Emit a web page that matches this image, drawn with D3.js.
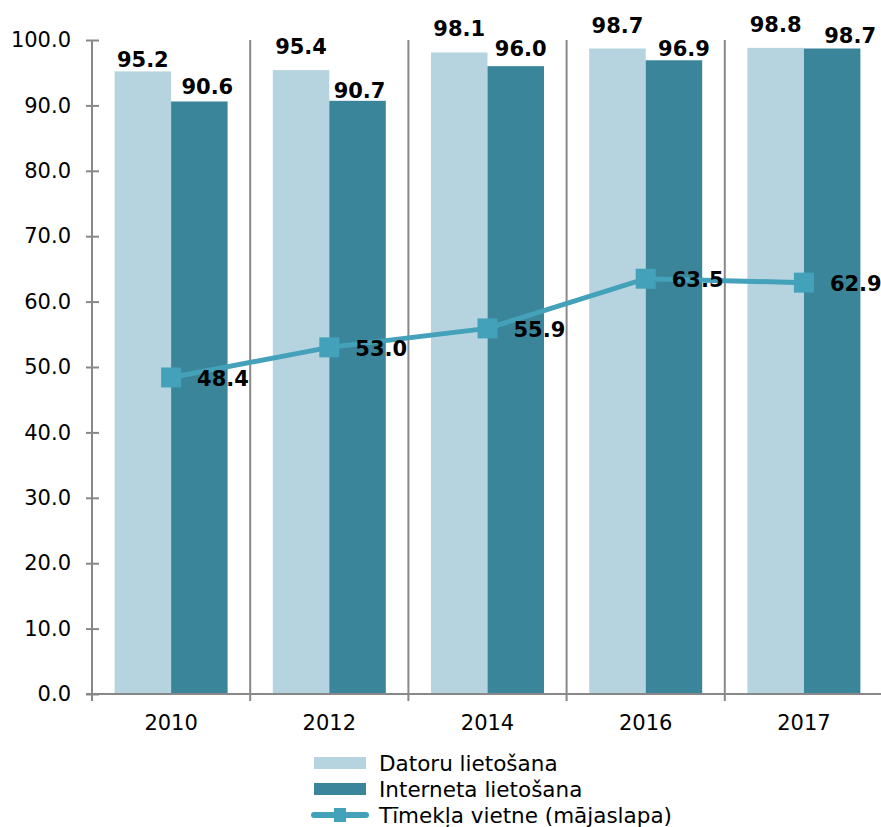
<!DOCTYPE html>
<meta charset="utf-8">
<style>
    html, body { margin: 0; padding: 0; background: #fff; }
    svg { font-family: 'DejaVu Sans', Verdana, sans-serif; }
    .yTick { font-size: 21px; fill: #000; }
    .xTick { font-size: 21px; fill: #000; }
    .barLabel, .lineLabel { font-size: 21px; font-weight: bold; fill: #000; }
    .legend text { font-size: 21.5px; fill: #000; }
</style>
<body>
<div id="chartArea"></div>
<script src="https://cdnjs.cloudflare.com/ajax/libs/d3/7.8.5/d3.min.js"></script>
<script>
    var years = ["2010", "2012", "2014", "2016", "2017"];
    var datoru = [95.2, 95.4, 98.1, 98.7, 98.8];
    var interneta = [90.6, 90.7, 96.0, 96.9, 98.7];
    var timekla = [48.4, 53.0, 55.9, 63.5, 62.9];
    var seriesNames = ["Datoru lietošana", "Interneta lietošana", "Tīmekļa vietne (mājaslapa)"];
    var yTicks = [0, 10, 20, 30, 40, 50, 60, 70, 80, 90, 100];

    // hand-nudged label positions as in the original chart [dx, gap above bar]
    var datoruNudge = [[0, 4], [0, 16], [0, 16], [0, 16], [0, 16]];
    var internetaNudge = [[8, 7], [2, 3], [5, 10], [10, 4], [18, 6]];

    var lightColor = "#b6d4df", darkColor = "#3a8599", lineColor = "#44a1ba", gridColor = "#888";

    var width = 881, height = 827;
    var plotLeft = 92, plotRight = 883, plotTop = 40, plotBottom = 694;

    var svg = d3.select("#chartArea").append("svg")
        .attr("width", width).attr("height", height);

    var x = d3.scaleBand().domain(years).range([plotLeft, plotRight]);
    var xInner = d3.scaleBand().domain([0, 1]).range([0, x.bandwidth()])
        .paddingInner(0).paddingOuter(0.4);
    var y = d3.scaleLinear().domain([0, 100]).range([plotBottom, plotTop]);

    // category separators
    svg.selectAll(".sep").data(years.slice(1)).enter().append("line")
        .attr("x1", function (d) { return x(d); }).attr("x2", function (d) { return x(d); })
        .attr("y1", plotTop).attr("y2", plotBottom + 7)
        .style("stroke", gridColor).style("stroke-width", "2px");

    // bars
    var bars = [datoru, interneta];
    var nudges = [datoruNudge, internetaNudge];
    var colors = [lightColor, darkColor];
    bars.forEach(function (vals, s) {
        svg.selectAll(".bar" + s).data(vals).enter().append("rect")
            .attr("x", function (d, i) { return x(years[i]) + xInner(s); })
            .attr("width", xInner.bandwidth())
            .attr("y", function (d) { return y(d); })
            .attr("height", function (d) { return y(0) - y(d); })
            .style("fill", colors[s]);
        svg.selectAll(".barLabel" + s).data(vals).enter().append("text")
            .attr("class", "barLabel")
            .attr("x", function (d, i) { return x(years[i]) + xInner(s) + xInner.bandwidth() / 2 + nudges[s][i][0]; })
            .attr("y", function (d, i) { return y(d) - nudges[s][i][1]; })
            .attr("text-anchor", "middle")
            .text(function (d) { return d.toFixed(1); });
    });

    // y axis
    var yAxis = svg.append("g").attr("transform", "translate(" + plotLeft + ",0)")
        .call(d3.axisLeft(y).tickValues(yTicks).tickSize(6).tickFormat(d3.format(".1f")));
    yAxis.attr("font-size", null).attr("font-family", null);
    yAxis.select(".domain").style("stroke", gridColor).style("stroke-width", "2px").attr("d", "M0," + plotBottom + "V" + plotTop);
    yAxis.selectAll(".tick line").attr("x1", -6).attr("x2", 7).style("stroke", gridColor).style("stroke-width", "2px");
    yAxis.selectAll(".tick text").attr("class", "yTick").attr("x", -21);

    // x axis
    var xAxis = svg.append("g").attr("transform", "translate(0," + plotBottom + ")")
        .call(d3.axisBottom(x).tickSize(0).tickPadding(21));
    xAxis.attr("font-size", null).attr("font-family", null);
    xAxis.select(".domain").style("stroke", gridColor).style("stroke-width", "2px").attr("d", "M" + (plotLeft - 6) + ",0H" + plotRight);
    xAxis.selectAll(".tick text").attr("class", "xTick");
    svg.append("line").attr("x1", plotLeft).attr("x2", plotLeft).attr("y1", plotBottom).attr("y2", plotBottom + 7)
        .style("stroke", gridColor).style("stroke-width", "2px");

    // line series
    var cx = function (d, i) { return x(years[i]) + x.bandwidth() / 2; };
    var line = d3.line().x(cx).y(function (d) { return y(d); });
    svg.append("path").datum(timekla).attr("d", line)
        .style("fill", "none").style("stroke", lineColor).style("stroke-width", "5px");
    svg.selectAll(".marker").data(timekla).enter().append("rect")
        .attr("x", function (d, i) { return cx(d, i) - 10; })
        .attr("y", function (d) { return y(d) - 10; })
        .attr("width", 20).attr("height", 20)
        .style("fill", lineColor);
    svg.selectAll(".lineLabel").data(timekla).enter().append("text")
        .attr("class", "lineLabel")
        .attr("x", function (d, i) { return cx(d, i) + 26; })
        .attr("y", function (d) { return y(d) + 1; })
        .attr("dy", "0.36em")
        .text(function (d) { return d.toFixed(1); });

    // legend
    var legend = svg.append("g").attr("class", "legend");
    var rowY = [763, 789, 815];
    seriesNames.forEach(function (name, i) {
        var g = legend.append("g").attr("transform", "translate(0," + rowY[i] + ")");
        if (i < 2) {
            g.append("rect").attr("x", 314).attr("y", -6).attr("width", 52).attr("height", 12)
                .style("fill", colors[i]);
        } else {
            g.append("line").attr("x1", 314).attr("x2", 366).attr("y1", 0).attr("y2", 0)
                .style("stroke", lineColor).style("stroke-width", "6px").style("stroke-linecap", "round");
            g.append("rect").attr("x", 334).attr("y", -7).attr("width", 12).attr("height", 14)
                .style("fill", lineColor);
        }
        g.append("text").attr("x", 379).attr("y", 0).attr("dy", "0.35em").text(name);
    });
</script>
</body>
